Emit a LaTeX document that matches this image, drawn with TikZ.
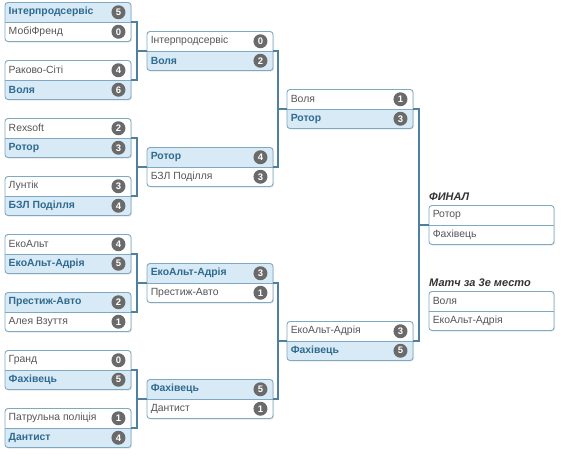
\documentclass[tikz,border=0pt]{standalone}
\usepackage{fontspec}
\setmainfont{Liberation Sans}
\usetikzlibrary{calc}
\definecolor{bordercol}{HTML}{7FA8C2}
\definecolor{winbg}{HTML}{D8EAF6}
\definecolor{wintext}{HTML}{2F6A90}
\definecolor{losetext}{HTML}{555555}
\definecolor{badgecol}{HTML}{6A6A6A}
\definecolor{linkcol}{HTML}{4F809F}
\definecolor{titlecol}{HTML}{333333}
\tikzset{
  boxframe/.style={draw=bordercol, line width=0.9pt, rounded corners=3pt, minimum width=126pt, minimum height=39pt, inner sep=0pt},
  wtxt/.style={anchor=west, inner sep=0pt, text=wintext, font=\fontsize{10.4}{12}\selectfont\bfseries},
  ltxt/.style={anchor=west, inner sep=0pt, text=losetext, font=\fontsize{10.4}{12}\selectfont},
  badge/.style={circle, fill=badgecol, text=white, inner sep=0pt, minimum size=14pt, font=\fontsize{9.5}{10}\selectfont\bfseries},
  link/.style={draw=linkcol, line width=1.1pt},
  titletxt/.style={anchor=west, inner sep=0pt, text=titlecol, font=\fontsize{11}{13}\selectfont\bfseries\itshape},
}
% name, x, ydiv, team1, score1, team2, score2, winner
\newcommand{\bmatch}[8]{%
  \fill[black!10, rounded corners=3pt] (#2+1,#3-18.5) rectangle ++(126,39);
  \fill[white, rounded corners=3pt] (#2,#3-19.5) rectangle ++(126,39);
  \begin{scope}
    \clip[rounded corners=3pt] (#2,#3-19.5) rectangle ++(126,39);
    \ifnum#8=1
      \fill[winbg] (#2,#3-19.5) rectangle ++(126,19.5);
    \else
      \fill[winbg] (#2,#3) rectangle ++(126,19.5);
    \fi
  \end{scope}
  \node[boxframe] (#1) at (#2+63,#3) {};
  \draw[bordercol, line width=0.9pt] (#1.west) -- (#1.east);
  \ifnum#8=1
    \node[wtxt] (#1-t1) at ($(#1.west)+(4,-9.75)$) {#4};
    \node[ltxt] (#1-t2) at ($(#1.west)+(4,9.75)$) {#6};
  \else
    \node[ltxt] (#1-t1) at ($(#1.west)+(4,-9.75)$) {#4};
    \node[wtxt] (#1-t2) at ($(#1.west)+(4,9.75)$) {#6};
  \fi
  \node[badge] (#1-s1) at ($(#1.east)+(-13,-9.75)$) {#5};
  \node[badge] (#1-s2) at ($(#1.east)+(-13,9.75)$) {#7};
}
% name, x, ydiv, team1, team2
\newcommand{\fmatch}[5]{%
  \fill[black!10, rounded corners=3pt] (#2+1,#3-18.5) rectangle ++(125,39);
  \fill[white, rounded corners=3pt] (#2,#3-19.5) rectangle ++(125,39);
  \node[boxframe, minimum width=125pt] (#1) at (#2+62.5,#3) {};
  \draw[bordercol, line width=0.9pt] (#1.west) -- (#1.east);
  \node[ltxt] (#1-t1) at ($(#1.west)+(4,-9.75)$) {#4};
  \node[ltxt] (#1-t2) at ($(#1.west)+(4,9.75)$) {#5};
}
\begin{document}
\begin{tikzpicture}[x=1pt,y=-1pt]
\useasboundingbox (0,0) rectangle (580,455);
% connectors first
\coordinate (j1) at (137,51);
\coordinate (j2) at (137,167);
\coordinate (j3) at (137,283);
\coordinate (j4) at (137,399);
\coordinate (k1) at (278,109);
\coordinate (k2) at (278,341);
\coordinate (f1) at (419,225);
% round 1
\bmatch{m1}{5}{22}{Інтерпродсервіс}{5}{МобіФренд}{0}{1}
\bmatch{m2}{5}{80}{Раково-Сіті}{4}{Воля}{6}{2}
\bmatch{m3}{5}{138}{Rexsoft}{2}{Ротор}{3}{2}
\bmatch{m4}{5}{196}{Лунтік}{3}{БЗЛ Поділля}{4}{2}
\bmatch{m5}{5}{254}{ЕкоАльт}{4}{ЕкоАльт-Адрія}{5}{2}
\bmatch{m6}{5}{312}{Престиж-Авто}{2}{Алея Взуття}{1}{1}
\bmatch{m7}{5}{370}{Гранд}{0}{Фахівець}{5}{2}
\bmatch{m8}{5}{428}{Патрульна поліція}{1}{Дантист}{4}{2}
% round 2
\bmatch{q1}{147}{51}{Інтерпродсервіс}{0}{Воля}{2}{2}
\bmatch{q2}{147}{167}{Ротор}{4}{БЗЛ Поділля}{3}{1}
\bmatch{q3}{147}{283}{ЕкоАльт-Адрія}{3}{Престиж-Авто}{1}{1}
\bmatch{q4}{147}{399}{Фахівець}{5}{Дантист}{1}{1}
% round 3
\bmatch{s1}{287}{109}{Воля}{1}{Ротор}{3}{2}
\bmatch{s2}{287}{341}{ЕкоАльт-Адрія}{3}{Фахівець}{5}{2}
% final and 3rd place
\node[titletxt] (tfin) at (429,197) {ФИНАЛ};
\fmatch{fin}{429}{225}{Ротор}{Фахівець}
\node[titletxt] (tthird) at (429,283) {Матч за 3е место};
\fmatch{third}{429}{311}{Воля}{ЕкоАльт-Адрія}
% links
\draw[link] (m1.east) -| (j1) |- (m2.east);
\draw[link] (j1) -- (q1.west);
\draw[link] (m3.east) -| (j2) |- (m4.east);
\draw[link] (j2) -- (q2.west);
\draw[link] (m5.east) -| (j3) |- (m6.east);
\draw[link] (j3) -- (q3.west);
\draw[link] (m7.east) -| (j4) |- (m8.east);
\draw[link] (j4) -- (q4.west);
\draw[link] (q1.east) -| (k1) |- (q2.east);
\draw[link] (k1) -- (s1.west);
\draw[link] (q3.east) -| (k2) |- (q4.east);
\draw[link] (k2) -- (s2.west);
\draw[link] (s1.east) -| (f1) |- (s2.east);
\draw[link] (f1) -- (fin.west);
\end{tikzpicture}
\end{document}
